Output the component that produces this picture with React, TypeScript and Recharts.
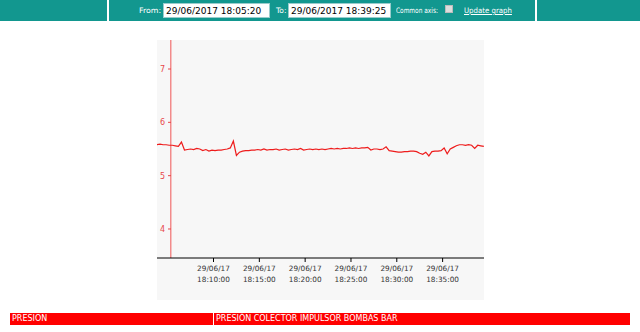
import { LineChart, Line, XAxis, YAxis, ReferenceLine } from 'recharts'

const fromLabel = '29/06/2017 18:05:20'
const toLabel = '29/06/2017 18:39:25'
const seriesGroup = 'PRESION'
const seriesName = 'PRESIÓN COLECTOR IMPULSOR BOMBAS BAR'

const sampleStart = '18:03:50'
const sampleStepSeconds = 20
const viewEnd = '18:39:31'
const yAxisAt = '18:05:20'

const presionBar = [
  5.58, 5.59, 5.58, 5.58, 5.57, 5.57, 5.56, 5.55, 5.63, 5.48,
  5.49, 5.5, 5.49, 5.51, 5.5, 5.47, 5.49, 5.46, 5.48, 5.47,
  5.48, 5.48, 5.49, 5.5, 5.52, 5.65, 5.38, 5.44, 5.46, 5.47,
  5.47, 5.48, 5.48, 5.49, 5.48, 5.5, 5.48, 5.49, 5.49, 5.5,
  5.48, 5.49, 5.5, 5.48, 5.49, 5.5, 5.49, 5.51, 5.48, 5.49,
  5.5, 5.49, 5.5, 5.49, 5.5, 5.49, 5.5, 5.51, 5.5, 5.51,
  5.5, 5.51, 5.51, 5.52, 5.51, 5.52, 5.51, 5.52, 5.52, 5.53,
  5.48, 5.5, 5.5, 5.49, 5.5, 5.54, 5.47, 5.46, 5.45, 5.44,
  5.44, 5.45, 5.45, 5.46, 5.46, 5.45, 5.42, 5.4, 5.44, 5.37,
  5.45, 5.46, 5.46, 5.47, 5.52, 5.41, 5.5, 5.53, 5.56, 5.58,
  5.58, 5.57, 5.58, 5.57, 5.51, 5.57, 5.56, 5.55,
]

const xTickTimes = ['18:10:00', '18:15:00', '18:20:00', '18:25:00', '18:30:00', '18:35:00']
const xTickDate = '29/06/17'
const yTicks = [4, 5, 6, 7]
const yDomain = [3.456, 7.544]

const toSeconds = (hms: string) => {
  const [h, m, s] = hms.split(':').map(Number)
  return h * 3600 + m * 60 + s
}

const pad = (n: number) => String(n).padStart(2, '0')
const toHms = (sec: number) =>
  `${pad(Math.floor(sec / 3600))}:${pad(Math.floor((sec % 3600) / 60))}:${pad(sec % 60)}`

const data = presionBar.map((value, i) => ({
  t: toSeconds(sampleStart) + i * sampleStepSeconds,
  value,
}))

const FONT = '"DejaVu Sans", Verdana, sans-serif'
const TEAL = '#12978f'

function TimeTick({ x, y, payload }: any) {
  return (
    <text x={x} y={y} textAnchor="middle" fontSize={7.3} fill="#333" fontFamily={FONT}>
      <tspan x={x} dy={7}>{xTickDate}</tspan>
      <tspan x={x} dy={11}>{toHms(payload.value)}</tspan>
    </text>
  )
}

function ValueTick({ x, y, payload }: any) {
  return (
    <g>
      <text x={x} y={y + 3} textAnchor="start" fontSize={8} fill="#e8474a" fontFamily={FONT}>
        {payload.value}
      </text>
      <line x1={x + 8} x2={x + 11} y1={y} y2={y} stroke="#e8474a" />
    </g>
  )
}

const labelStyle = {
  color: '#fff',
  fontSize: 7.5,
  fontFamily: FONT,
  whiteSpace: 'nowrap' as const,
  transformOrigin: 'left center',
}
const inputStyle = {
  background: '#fff',
  border: '1px solid #9cc',
  height: 15,
  boxSizing: 'border-box' as const,
  fontSize: 9,
  fontFamily: FONT,
  color: '#000',
  padding: '1px 2px',
  lineHeight: '12px',
  whiteSpace: 'nowrap' as const,
  overflow: 'hidden',
}

export default function App() {
  return (
    <div style={{ position: 'absolute', left: 0, top: 0, width: 640, height: 332, background: '#fff', overflow: 'hidden' }}>
      <div style={{ position: 'absolute', left: 0, top: 0, width: 640, height: 21, background: TEAL }}>
        <div style={{ position: 'absolute', left: 107, top: 0, width: 2, height: 21, background: '#fff' }} />
        <div style={{ position: 'absolute', left: 535, top: 0, width: 2, height: 21, background: '#fff' }} />
        <div style={{ position: 'absolute', left: 139, top: 6, ...labelStyle, transform: 'scaleX(1.05)' }}>From:</div>
        <div style={{ position: 'absolute', left: 163, top: 3, width: 107, ...inputStyle }}>{fromLabel}</div>
        <div style={{ position: 'absolute', left: 276, top: 6, ...labelStyle }}>To:</div>
        <div style={{ position: 'absolute', left: 288, top: 3, width: 103, ...inputStyle }}>{toLabel}</div>
        <div style={{ position: 'absolute', left: 396, top: 6, ...labelStyle, transform: 'scaleX(0.78)' }}>Common axis:</div>
        <div style={{ position: 'absolute', left: 445, top: 5, width: 8, height: 8, background: '#ddd', border: '1px solid #bbb', boxSizing: 'border-box' }} />
        <div style={{ position: 'absolute', left: 464, top: 6, ...labelStyle, textDecoration: 'underline', transform: 'scaleX(0.93)' }}>Update graph</div>
      </div>

      <div style={{ position: 'absolute', left: 157, top: 40, width: 327, height: 260, background: '#f7f7f7' }}>
        <LineChart width={327} height={260} data={data} margin={{ top: 0, right: 0, bottom: 0, left: 0 }}>
          <XAxis
            dataKey="t"
            type="number"
            domain={[toSeconds(sampleStart), toSeconds(viewEnd)]}
            ticks={xTickTimes.map(toSeconds)}
            tick={<TimeTick />}
            height={42}
            tickSize={4}
            tickMargin={2}
            axisLine={{ stroke: '#000' }}
            tickLine={{ stroke: '#000' }}
            allowDataOverflow
          />
          <YAxis
            type="number"
            domain={yDomain}
            ticks={yTicks}
            mirror
            axisLine={false}
            tickLine={false}
            tickSize={0}
            tickMargin={3}
            tick={<ValueTick />}
            allowDataOverflow
          />
          <ReferenceLine x={toSeconds(yAxisAt)} stroke="#f28b8b" strokeWidth={1.5} />
          <Line
            type="linear"
            dataKey="value"
            stroke="#ee1c1c"
            strokeWidth={1.2}
            dot={false}
            isAnimationActive={false}
          />
        </LineChart>
      </div>

      <div style={{ position: 'absolute', left: 10, top: 313, width: 620, height: 12, background: '#ff0000' }}>
        <div style={{ position: 'absolute', left: 203, top: 0, width: 1, height: 12, background: '#fff' }} />
        <div style={{ position: 'absolute', left: 2, top: 1, ...labelStyle, fontSize: 8 }}>{seriesGroup}</div>
        <div style={{ position: 'absolute', left: 206, top: 1, ...labelStyle, fontSize: 8 }}>{seriesName}</div>
      </div>
    </div>
  )
}
